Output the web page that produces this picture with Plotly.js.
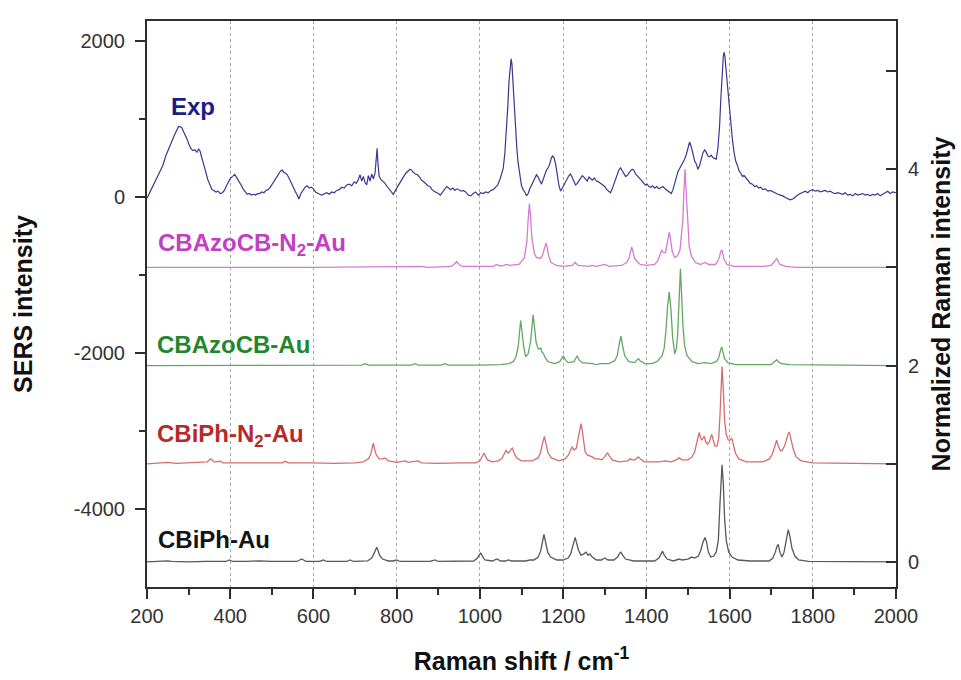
<!DOCTYPE html>
<html><head><meta charset="utf-8">
<script src="https://cdn.plot.ly/plotly-3.0.1.min.js"></script>
<style>html,body{margin:0;padding:0;background:#fff}#chart{width:961px;height:680px}</style>
</head><body><div id="chart"></div>
<script>
// ---------- data ----------
const expX = [
200,207,214,222,231,238,245,252,259,266,
272,276,280,284,288,292,296,300,305,310,
315,320,324,327,331,336,341,346,351,356,
361,366,371,376,381,386,391,396,401,406,
411,416,421,426,431,436,441,446,451,456,
461,466,471,476,481,486,491,496,501,506,
511,516,521,525,529,533,537,542,547,552,
557,561,565,570,575,580,585,590,595,600,
605,610,615,620,626,632,638,644,650,656,
662,668,674,680,686,692,698,703,708,712,
716,720,724,728,732,736,740,744,748,751,
753,755,758,762,767,772,777,782,787,792,
797,802,807,812,817,822,827,832,836,840,
845,850,855,860,865,870,875,880,885,890,
895,900,905,910,915,920,925,930,935,940,
945,950,955,960,966,972,978,984,990,996,
1002,1008,1014,1020,1026,1032,1038,1043,1048,1052,
1056,1060,1064,1067,1070,1073,1075,1077,1080,1083,
1086,1089,1092,1096,1100,1104,1108,1112,1116,1120,
1124,1128,1132,1136,1140,1144,1148,1152,1156,1160,
1164,1168,1172,1175,1178,1182,1186,1190,1194,1198,
1202,1206,1210,1214,1218,1222,1226,1230,1234,1238,
1242,1246,1250,1254,1258,1262,1266,1270,1275,1280,
1285,1290,1295,1300,1305,1310,1314,1318,1322,1326,
1330,1334,1338,1342,1346,1350,1354,1358,1362,1366,
1370,1374,1378,1382,1386,1390,1394,1398,1402,1406,
1410,1415,1420,1425,1430,1435,1440,1445,1450,1455,
1460,1464,1468,1472,1476,1480,1484,1488,1492,1496,
1500,1504,1508,1512,1516,1520,1524,1528,1532,1536,
1540,1544,1548,1552,1556,1560,1564,1568,1572,1576,
1579,1582,1585,1587,1589,1592,1595,1598,1601,1604,
1607,1611,1615,1619,1623,1627,1631,1635,1640,1645,
1650,1655,1660,1665,1670,1675,1680,1686,1692,1698,
1704,1710,1716,1722,1728,1734,1740,1746,1752,1758,
1764,1770,1776,1782,1788,1794,1800,1806,1812,1818,
1824,1830,1836,1842,1848,1854,1860,1866,1872,1878,
1884,1890,1896,1902,1908,1914,1920,1926,1932,1938,
1944,1950,1956,1962,1968,1974,1980,1986,1992,2000];
const expY = [
-20,60,120,210,330,400,520,600,700,790,
860,900,895,880,830,790,740,680,620,590,
600,570,610,590,520,420,320,220,140,90,
80,60,70,40,50,80,140,200,240,260,
285,240,200,150,100,60,30,40,20,30,
20,40,40,60,50,80,90,120,160,200,
240,290,330,340,310,300,280,230,170,100,
60,20,-30,40,90,120,140,110,120,100,
60,40,30,20,40,50,30,60,50,80,
90,120,110,150,160,140,190,170,220,280,
200,260,180,150,270,200,290,230,300,560,
620,430,260,220,200,170,130,100,60,30,
80,130,180,210,260,300,320,350,340,310,
290,280,250,210,190,160,140,130,90,70,
60,40,20,60,100,130,110,90,110,80,
100,90,70,80,60,20,10,40,60,20,
50,40,60,50,80,90,120,150,220,290,
360,560,850,1150,1480,1720,1765,1700,1400,1100,
820,600,430,260,140,90,60,10,40,100,
150,200,250,280,250,200,160,220,290,340,
370,420,500,520,500,420,280,140,70,110,
150,200,230,270,290,240,190,150,170,200,
240,270,250,230,200,250,230,210,240,200,
190,170,150,130,90,70,50,100,160,230,
300,340,370,330,300,260,270,310,330,350,
340,290,270,250,230,200,170,150,160,130,
120,140,110,130,100,120,130,100,80,70,
40,90,180,260,320,360,400,420,480,540,
630,700,640,540,460,420,350,400,480,560,
600,570,520,510,530,500,490,480,620,900,
1250,1580,1800,1850,1790,1600,1400,1250,1100,900,
720,560,450,400,330,300,260,270,240,200,
170,160,130,140,110,120,90,100,70,80,
60,50,30,20,10,-10,-20,-40,-30,0,
20,40,60,70,50,80,90,70,80,60,
70,80,60,70,50,40,50,40,30,50,
20,30,10,40,20,30,40,20,30,10,
30,20,40,10,30,50,70,40,60,50];

// CBAzoCB-N2-Au (right axis, read values)
const azoN2X = [
200,600,860,875,930,938,944,950,958,1000,
1032,1040,1048,1058,1064,1072,1094,1107,1113,1116,
1119,1122,1125,1131,1136,1140,1145,1150,1153,1156,
1159,1162,1165,1171,1184,1200,1222,1229,1236,1262,
1270,1280,1300,1310,1340,1353,1359,1362,1365,1368,
1372,1378,1385,1400,1420,1428,1434,1437,1441,1446,
1449,1452,1455,1458,1462,1468,1475,1481,1485,1488,
1490,1493,1496,1499,1503,1508,1518,1530,1541,1550,
1566,1572,1576,1578,1581,1584,1587,1594,1610,1680,
1700,1706,1710,1713,1716,1721,1735,1760,2000];
const azoN2Y = [
3.00,3.00,3.01,3.00,3.01,3.03,3.06,3.03,3.01,3.01,
3.01,3.03,3.015,3.02,3.03,3.02,3.03,3.10,3.27,3.49,
3.65,3.50,3.30,3.14,3.10,3.10,3.09,3.12,3.17,3.22,
3.25,3.20,3.12,3.05,3.02,3.01,3.02,3.05,3.02,3.01,
3.02,3.01,3.03,3.01,3.02,3.05,3.10,3.16,3.21,3.16,
3.09,3.06,3.03,3.02,3.03,3.07,3.14,3.18,3.15,3.15,
3.22,3.30,3.36,3.29,3.17,3.10,3.12,3.18,3.35,3.50,
3.75,4.00,3.75,3.45,3.22,3.12,3.05,3.03,3.05,3.03,
3.03,3.07,3.11,3.15,3.18,3.14,3.08,3.03,3.01,3.01,
3.02,3.05,3.08,3.09,3.07,3.03,3.01,3.00,3.00];

// CBAzoCB-Au
const azoX = [
200,700,716,724,732,836,844,852,908,916,
924,1000,1050,1070,1080,1086,1092,1095,1098,1101,
1105,1110,1116,1122,1125,1128,1131,1135,1140,1143,
1146,1149,1153,1157,1164,1180,1192,1197,1201,1205,
1212,1226,1231,1234,1238,1246,1270,1280,1290,1310,
1324,1330,1334,1339,1343,1348,1358,1372,1378,1381,
1385,1396,1412,1420,1428,1433,1438,1443,1447,1451,
1455,1459,1463,1468,1472,1475,1478,1482,1485,1488,
1492,1498,1510,1525,1540,1555,1568,1574,1578,1581,
1584,1588,1596,1615,1700,1706,1710,1713,1717,1724,
1745,2000];
const azoY = [
2.00,2.00,2.005,2.02,2.005,2.005,2.02,2.005,2.005,2.02,
2.005,2.005,2.01,2.02,2.04,2.08,2.19,2.33,2.46,2.35,
2.20,2.09,2.12,2.25,2.40,2.52,2.40,2.24,2.17,2.17,
2.18,2.14,2.12,2.08,2.04,2.02,2.04,2.07,2.10,2.06,
2.03,2.04,2.08,2.10,2.06,2.03,2.02,2.01,2.02,2.02,
2.05,2.10,2.20,2.30,2.20,2.10,2.04,2.03,2.06,2.07,
2.05,2.02,2.02,2.03,2.05,2.08,2.10,2.18,2.35,2.60,
2.75,2.58,2.30,2.12,2.17,2.30,2.60,2.99,2.70,2.40,
2.20,2.10,2.04,2.02,2.03,2.02,2.04,2.08,2.15,2.19,
2.14,2.07,2.03,2.01,2.01,2.03,2.05,2.06,2.04,2.02,
2.01,2.00];

// CBiPh-N2-Au
const biphN2X = [
200,230,250,270,300,330,345,353,361,368,
375,383,420,460,500,525,532,540,600,650,
700,720,732,738,741,744,747,751,758,766,
772,780,800,812,820,828,843,851,860,900,
950,990,1000,1004,1007,1010,1013,1018,1030,1045,
1054,1060,1063,1067,1071,1075,1078,1082,1088,1100,
1125,1140,1146,1150,1155,1159,1164,1172,1190,1205,
1213,1219,1222,1226,1232,1237,1240,1243,1246,1250,
1253,1258,1265,1270,1276,1285,1293,1300,1304,1307,
1311,1318,1335,1355,1361,1366,1372,1378,1381,1385,
1395,1430,1445,1460,1472,1479,1486,1500,1510,1516,
1520,1524,1527,1530,1533,1536,1539,1543,1547,1551,
1554,1557,1561,1565,1570,1574,1577,1579,1582,1585,
1588,1592,1597,1601,1605,1609,1614,1622,1640,1680,
1696,1703,1708,1713,1718,1723,1727,1732,1737,1741,
1744,1748,1753,1760,1772,1800,2000];
const biphN2Y = [
1.00,1.01,1.015,1.005,1.01,1.01,1.02,1.05,1.02,1.02,
1.03,1.01,1.01,1.005,1.01,1.01,1.025,1.01,1.01,1.005,
1.01,1.02,1.05,1.10,1.16,1.21,1.15,1.09,1.05,1.05,
1.06,1.03,1.015,1.02,1.03,1.015,1.02,1.03,1.01,1.005,
1.01,1.01,1.03,1.06,1.09,1.11,1.08,1.04,1.02,1.03,
1.06,1.11,1.14,1.11,1.12,1.15,1.16,1.11,1.06,1.03,
1.03,1.06,1.12,1.20,1.28,1.20,1.11,1.06,1.03,1.05,
1.09,1.15,1.17,1.14,1.16,1.28,1.36,1.41,1.34,1.18,
1.12,1.09,1.08,1.07,1.05,1.05,1.04,1.07,1.10,1.11,
1.08,1.04,1.02,1.03,1.05,1.04,1.04,1.06,1.07,1.05,
1.02,1.02,1.03,1.02,1.04,1.06,1.04,1.04,1.07,1.12,
1.20,1.29,1.32,1.27,1.24,1.26,1.28,1.22,1.20,1.22,
1.27,1.30,1.24,1.18,1.18,1.26,1.50,1.75,1.99,1.75,
1.45,1.30,1.24,1.24,1.26,1.20,1.11,1.05,1.02,1.02,
1.05,1.10,1.17,1.24,1.17,1.13,1.14,1.18,1.25,1.31,
1.32,1.25,1.15,1.07,1.03,1.01,1.00];

// CBiPh-Au
const biphX = [
200,240,250,260,300,340,390,398,406,440,
470,500,560,572,582,615,624,632,680,688,
696,730,740,746,749,752,755,759,766,780,
792,800,808,880,892,900,985,994,998,1002,
1006,1012,1030,1041,1050,1062,1068,1076,1110,1120,
1130,1140,1146,1150,1154,1158,1163,1170,1185,1200,
1212,1218,1222,1226,1229,1232,1237,1243,1249,1255,
1260,1265,1270,1280,1292,1300,1308,1322,1331,1336,
1339,1343,1350,1370,1420,1430,1435,1439,1443,1450,
1465,1472,1479,1486,1500,1509,1516,1525,1531,1536,
1541,1545,1549,1555,1562,1568,1573,1577,1580,1582,
1585,1588,1592,1598,1606,1620,1650,1695,1704,1710,
1714,1717,1721,1726,1731,1736,1741,1745,1750,1757,
1766,1790,2000];
const biphY = [
0.00,0.005,0.012,0.005,0.00,0.005,0.005,0.02,0.005,0.005,
0.012,0.005,0.005,0.03,0.005,0.005,0.02,0.005,0.005,0.02,
0.005,0.01,0.04,0.09,0.13,0.15,0.12,0.07,0.03,0.01,
0.01,0.02,0.005,0.005,0.02,0.005,0.01,0.04,0.07,0.09,
0.06,0.02,0.01,0.03,0.01,0.01,0.02,0.01,0.01,0.02,
0.02,0.05,0.11,0.20,0.28,0.20,0.10,0.05,0.02,0.02,
0.04,0.08,0.14,0.22,0.25,0.20,0.12,0.07,0.08,0.10,
0.07,0.08,0.05,0.02,0.02,0.04,0.02,0.02,0.05,0.09,
0.10,0.07,0.03,0.01,0.01,0.04,0.08,0.11,0.07,0.03,
0.01,0.02,0.03,0.02,0.03,0.05,0.04,0.06,0.12,0.20,
0.25,0.20,0.10,0.05,0.06,0.10,0.22,0.60,0.90,0.99,
0.80,0.45,0.22,0.10,0.05,0.02,0.01,0.01,0.04,0.10,
0.16,0.18,0.10,0.05,0.10,0.24,0.33,0.26,0.14,0.06,
0.02,0.005,0.00];

const seriesNames = ['Exp', 'CBAzoCB-N<sub>2</sub>-Au', 'CBAzoCB-Au', 'CBiPh-N<sub>2</sub>-Au', 'CBiPh-Au'];
const xTickVals = [200,400,600,800,1000,1200,1400,1600,1800,2000];
const xTickText = ['200','400','600','800','1000','1200','1400','1600','1800','2000'];
const xMinorVals = [300,500,700,900,1100,1300,1500,1700,1900];
const leftTickVals = [-4000,-2000,0,2000];
const leftTickText = ['-4000','-2000','0','2000'];
const leftMinorVals = [-3000,-1000,1000];
const rightTickVals = [0,2,4];
const rightTickText = ['0','2','4'];
const rightMinorVals = [1,3,5];

// sanity check on array lengths
[[expX,expY,'exp'],[azoN2X,azoN2Y,'azoN2'],[azoX,azoY,'azo'],[biphN2X,biphN2Y,'biphN2'],[biphX,biphY,'biph']].forEach(function(p){
  if (p[0].length !== p[1].length) throw new Error('length mismatch ' + p[2] + ' ' + p[0].length + ' vs ' + p[1].length);
});

// ---------- drawing ----------
const FONT = 'Liberation Sans, Arial, Helvetica, sans-serif';
const AX = '#2e2e2e';
const lineColors = ['#383890', '#d57ad5', '#62a862', '#d46e6e', '#585858'];
const labelColors = ['#1c1c86', '#c23fc2', '#23862a', '#b82a2a', '#141414'];

const traces = [
  {x: expX, y: expY, yaxis: 'y', name: seriesNames[0]},
  {x: azoN2X, y: azoN2Y, yaxis: 'y2', name: seriesNames[1]},
  {x: azoX, y: azoY, yaxis: 'y2', name: seriesNames[2]},
  {x: biphN2X, y: biphN2Y, yaxis: 'y2', name: seriesNames[3]},
  {x: biphX, y: biphY, yaxis: 'y2', name: seriesNames[4]}
].map(function(t, i){
  return Object.assign(t, {type: 'scatter', mode: 'lines', hoverinfo: 'skip',
    line: {color: lineColors[i], width: i === 0 ? 1.2 : 1.3}});
});

function lbl(i, x, y, yref){
  return {text: '<b>' + seriesNames[i] + '</b>', x: x, y: y, xref: 'x', yref: yref,
    xanchor: 'left', yanchor: 'middle', showarrow: false,
    font: {family: FONT, size: 24, color: labelColors[i]}};
}

const layout = {
  width: 961, height: 680,
  margin: {l: 147, r: 65, t: 21, b: 93},
  paper_bgcolor: '#ffffff', plot_bgcolor: '#ffffff',
  showlegend: false,
  font: {family: FONT, color: '#333'},
  xaxis: {
    range: [200, 2000], tickmode: 'array', tickvals: xTickVals, ticktext: xTickText,
    ticks: 'outside', ticklen: 10, tickwidth: 2, tickcolor: AX,
    showline: true, linewidth: 2, linecolor: AX, mirror: true,
    showgrid: true, gridcolor: '#a8a8a8', griddash: 'dot', gridwidth: 1, zeroline: false,
    minor: {tickvals: xMinorVals, ticks: 'outside', ticklen: 6, tickwidth: 2, tickcolor: AX, showgrid: false},
    tickfont: {family: FONT, size: 20, color: '#333'},
    title: {text: '<b>Raman shift / cm<sup>-1</sup></b>', font: {family: FONT, size: 25, color: '#111'}, standoff: 26}
  },
  yaxis: {
    range: [-5000, 2250], tickmode: 'array', tickvals: leftTickVals, ticktext: leftTickText,
    ticks: 'outside', ticklen: 10, tickwidth: 2, tickcolor: AX,
    showline: true, linewidth: 2, linecolor: AX, showgrid: false, zeroline: false,
    minor: {tickvals: leftMinorVals, ticks: 'outside', ticklen: 6, tickwidth: 2, tickcolor: AX, showgrid: false},
    tickfont: {family: FONT, size: 20, color: '#333'}, ticklabelstandoff: 6,
    title: {text: '<b>SERS intensity</b>', font: {family: FONT, size: 25, color: '#111'}, standoff: 34}
  },
  yaxis2: {
    overlaying: 'y', side: 'right',
    range: [-0.255, 5.51], tickmode: 'array', tickvals: rightTickVals, ticktext: rightTickText,
    ticks: 'inside', ticklen: 10, tickwidth: 2, tickcolor: AX,
    showline: true, linewidth: 2, linecolor: AX, showgrid: false, zeroline: false,
    minor: {tickvals: rightMinorVals, ticks: 'inside', ticklen: 10, tickwidth: 2, tickcolor: AX, showgrid: false},
    tickfont: {family: FONT, size: 20, color: '#333'}, ticklabelstandoff: 6,
    title: {text: '<b>Normalized Raman intensity</b>', font: {family: FONT, size: 25, color: '#111'}, standoff: 14}
  },
  annotations: [
    lbl(0, 253, 1160, 'y'),
    lbl(1, 222, 3.23, 'y2'),
    lbl(2, 219, 2.22, 'y2'),
    lbl(3, 219, 1.29, 'y2'),
    lbl(4, 222, 0.224, 'y2')
  ]
};

Plotly.newPlot('chart', traces, layout, {staticPlot: true, displayModeBar: false});
</script>
</body></html>
